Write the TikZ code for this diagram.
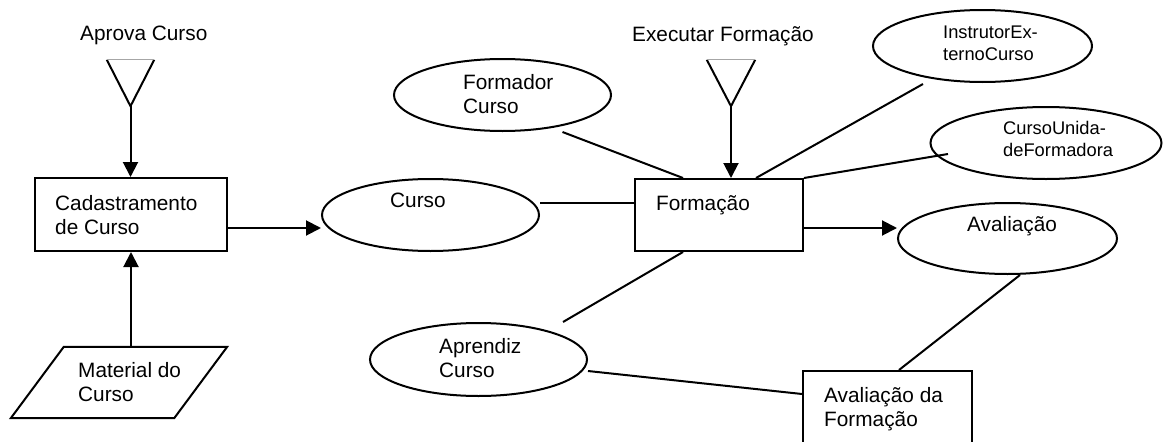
\documentclass[tikz,border=0pt]{standalone}
\usepackage{fontspec}
\setmainfont{Liberation Sans}
\usetikzlibrary{calc,arrows.meta,shapes.geometric}

\begin{document}
\begin{tikzpicture}[x=1pt,y=-1pt,
  lw/.style={line width=2pt},
  procbox/.style={draw, lw, rectangle, inner sep=0pt, minimum height=72pt},
  ovalnode/.style={draw, lw, ellipse, inner sep=0pt},
  antenna/.style={rectangle, inner sep=0pt},
  framebox/.style={rectangle, inner sep=0pt},
  txt/.style={anchor=north west, inner sep=0pt, align=left, font=\fontsize{20.8}{24}\selectfont},
  smalltxt/.style={anchor=north west, inner sep=0pt, align=left, font=\fontsize{18.3}{22}\selectfont},
  conn/.style={lw},
  arr/.style={lw, -{Triangle[length=15pt,width=15pt]}},
  toptick/.style={draw=gray!70, line width=0.8pt}
]
\useasboundingbox (0,0) rectangle (1163,442);

% ---- left part: course registration
\node[antenna, minimum width=47pt, minimum height=46pt] (aprova) at (130.5,83) {};
\draw[lw] (aprova.north west) -- (aprova.south) -- (aprova.north east);
\draw[toptick] (aprova.north west) -- (aprova.north east);
\node[txt] (aprova-t) at (80,26) {Aprova Curso};

\node[procbox, minimum width=192pt, minimum height=73pt] (cad) at (131,214.5) {};
\node[txt] (cad-t) at (55,195) {Cadastramento\\de Curso};

\node[framebox, minimum width=216pt, minimum height=71pt] (material) at (119,382.5) {};
\draw[lw, line join=miter] ($(material.north west)+(53,0)$) -- (material.north east)
  -- ($(material.south east)+(-53,0)$) -- (material.south west) -- cycle;
\node[txt] (material-t) at (78,362) {Material do\\Curso};

% ---- entities
\node[ovalnode, minimum width=217pt, minimum height=72pt] (curso) at (430.5,215) {};
\node[txt] (curso-t) at (390,193) {Curso};

\node[ovalnode, minimum width=217pt, minimum height=72pt] (formador) at (502.5,95) {};
\node[txt] (formador-t) at (463,74) {Formador\\Curso};

\node[ovalnode, minimum width=217pt, minimum height=73pt] (aprendiz) at (478.5,359.5) {};
\node[txt] (aprendiz-t) at (439,338) {Aprendiz\\Curso};

% ---- training process
\node[procbox, minimum width=168pt] (formacao) at (719,215) {};
\node[txt] (formacao-t) at (656,195) {Formação};

\node[antenna, minimum width=48pt, minimum height=46pt] (executar) at (731,83) {};
\draw[lw] (executar.north west) -- (executar.south) -- (executar.north east);
\draw[toptick] (executar.north west) -- (executar.north east);
\node[txt] (executar-t) at (632,26) {Executar Formação};

\node[ovalnode, minimum width=219pt, minimum height=72pt] (instrutor) at (982.5,46) {};
\node[smalltxt] (instrutor-t) at (943,26) {InstrutorEx-\\ternoCurso};

\node[ovalnode, minimum width=231pt, minimum height=72pt] (unidade) at (1046,143) {};
\node[smalltxt] (unidade-t) at (1003,121) {CursoUnida-\\deFormadora};

\node[ovalnode, minimum width=219pt, minimum height=71pt] (avaliacao) at (1007.5,238.5) {};
\node[txt] (avaliacao-t) at (967,216) {Avaliação};

\node[procbox, minimum width=169pt] (avform) at (887.5,407) {};
\node[txt] (avform-t) at (824,387) {Avaliação da\\Formação};

% ---- connectors
\draw[arr] (aprova.south) -- (aprova.south |- cad.north);
\draw[arr] ($(material.north)+(12,0)$) -- (cad.south);
\draw[arr] ($(cad.east)+(0,13.5)$) -- ($(curso.west)+(0,13)$);
\draw[conn] ($(curso.east)+(0,-12)$) -- ($(formacao.west)+(0,-12)$);
\draw[conn] ($(formador.south)+(60,0)$) -- ($(formacao.north)+(-36,0)$);
\draw[arr] (executar.south) -- (executar.south |- formacao.north);
\draw[conn] ($(instrutor.south)+(-59.5,1)$) -- ($(formacao.north)+(37,0)$);
\draw[conn] ($(unidade.center)+(-98,11)$) -- (formacao.north east);
\draw[arr] ($(formacao.east)+(0,13)$) -- ($(avaliacao.west)+(0,-10.5)$);
\draw[conn] ($(aprendiz.north)+(84.5,0)$) -- ($(formacao.south)+(-36,0)$);
\draw[conn] ($(aprendiz.east)+(0,11.5)$) -- ($(avform.west)+(0,-13)$);
\draw[conn] ($(avaliacao.south)+(12.5,0)$) -- ($(avform.north)+(11.5,0)$);
\end{tikzpicture}
\end{document}
